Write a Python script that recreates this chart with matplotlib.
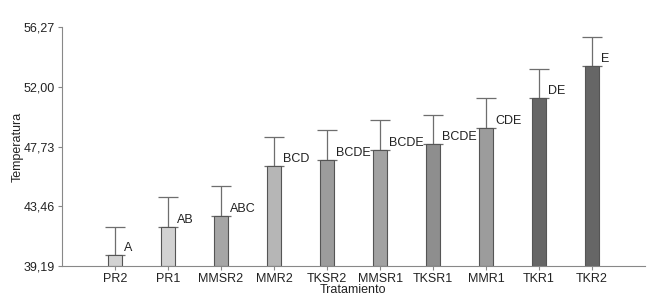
import matplotlib
matplotlib.use("Agg")
import matplotlib.pyplot as plt
import numpy as np

plt.rcParams["font.family"] = ["Liberation Sans", "DejaVu Sans"]

# Data
tratamientos = ["PR2", "PR1", "MMSR2", "MMR2", "TKSR2", "MMSR1", "TKSR1", "MMR1", "TKR1", "TKR2"]
temperatura = [39.98, 42.00, 42.78, 46.34, 46.75, 47.48, 47.93, 49.05, 51.17, 53.45]
error_sup = [2.02, 2.14, 2.11, 2.08, 2.13, 2.14, 2.05, 2.15, 2.12, 2.07]
letras = ["A", "AB", "ABC", "BCD", "BCDE", "BCDE", "BCDE", "CDE", "DE", "E"]
colores = ["#d2d2d2", "#d2d2d2", "#a6a6a6", "#b6b6b6", "#9c9c9c",
           "#a2a2a2", "#8e8e8e", "#9c9c9c", "#666666", "#666666"]
y_ticks = [39.19, 43.46, 47.73, 52.00, 56.27]

fig = plt.figure(figsize=(6.51, 3.02), dpi=100)
fig.patch.set_facecolor("white")
ax = fig.add_axes([0.0952, 0.119, 0.8958, 0.7916])

x = np.arange(len(tratamientos))
base = y_ticks[0]
heights = [t - base for t in temperatura]

ax.bar(x, heights, bottom=base, width=0.27, color=colores,
       edgecolor="#555555", linewidth=0.8, zorder=2)
ax.errorbar(x, temperatura, yerr=[np.zeros(len(x)), error_sup], fmt="none",
            ecolor="#6e6e6e", elinewidth=0.9, capsize=7, capthick=0.9, zorder=1)

for xi, t, letra in zip(x, temperatura, letras):
    ax.text(xi + 0.17, t + 0.08, letra, fontsize=9, color="#222222",
            ha="left", va="bottom")

ax.set_xlim(-1, 10)
ax.set_ylim(y_ticks[0], y_ticks[-1])
ax.set_yticks(y_ticks)
ax.set_yticklabels([f"{v:.2f}".replace(".", ",") for v in y_ticks])
ax.set_xticks(x)
ax.set_xticklabels(tratamientos)

for side in ["top", "right"]:
    ax.spines[side].set_visible(False)
for side in ["left", "bottom"]:
    ax.spines[side].set_color("#888888")
    ax.spines[side].set_linewidth(0.8)

ax.tick_params(axis="both", labelsize=9, colors="#888888", labelcolor="#222222",
               length=3, width=0.8, pad=2)

fig.text(18 / 651, 1 - 147 / 302, "Temperatura", fontsize=9, color="#222222",
         rotation=90, ha="center", va="center")
fig.text(353 / 651, 1 - 290 / 302, "Tratamiento", fontsize=9, color="#222222",
         ha="center", va="center")

fig.savefig("out.png", dpi=100, facecolor="white")
